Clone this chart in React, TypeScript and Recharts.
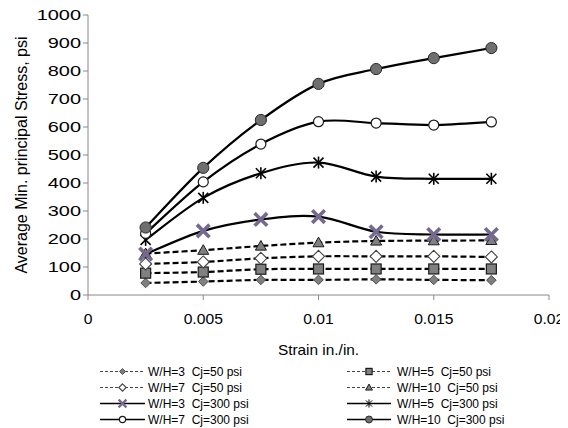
import React from 'react';
import { LineChart, Line, XAxis, YAxis } from 'recharts';

const strain = [0.0025, 0.005, 0.0075, 0.01, 0.0125, 0.015, 0.0175];
const wh3_50 = [43, 48, 54, 54, 56, 54, 53];
const wh5_50 = [78, 82, 92, 93, 93, 93, 93];
const wh7_50 = [111, 118, 131, 138, 138, 138, 136];
const wh10_50 = [148, 160, 175, 187, 193, 194, 195];
const wh3_300 = [146, 229, 270, 280, 226, 216, 216];
const wh5_300 = [197, 347, 435, 473, 423, 415, 415];
const wh7_300 = [220, 404, 539, 619, 614, 607, 618];
const wh10_300 = [241, 454, 625, 754, 807, 846, 882];

const xTicks = [0, 0.005, 0.01, 0.015, 0.02];
const yTicks = [0, 100, 200, 300, 400, 500, 600, 700, 800, 900, 1000];

const seriesNames = [
  'W/H=3  Cj=50 psi',
  'W/H=5  Cj=50 psi',
  'W/H=7  Cj=50 psi',
  'W/H=10  Cj=50 psi',
  'W/H=3  Cj=300 psi',
  'W/H=5  Cj=300 psi',
  'W/H=7  Cj=300 psi',
  'W/H=10  Cj=300 psi',
];
const seriesValues = [wh3_50, wh5_50, wh7_50, wh10_50, wh3_300, wh5_300, wh7_300, wh10_300];
const seriesShapes = ['diamondGray', 'square', 'diamondWhite', 'triangle', 'xPurple', 'star', 'circleWhite', 'circleGray'];
const seriesDashed = [true, true, true, true, false, false, false, false];

const data = strain.map((x, i) => {
  const row: Record<string, number> = { x };
  seriesValues.forEach((vals, k) => {
    row['s' + k] = vals[i];
  });
  return row;
});

const FONT = '"Liberation Sans", Arial, sans-serif';

// Excel-like smoothing (Catmull-Rom style bezier)
const excelSmooth = (context: any) => {
  let pts: number[][] = [];
  return {
    areaStart() {},
    areaEnd() {},
    lineStart() {
      pts = [];
    },
    point(x: number, y: number) {
      pts.push([+x, +y]);
    },
    lineEnd() {
      if (!pts.length) return;
      context.moveTo(pts[0][0], pts[0][1]);
      for (let i = 0; i < pts.length - 1; i++) {
        const p0 = pts[i - 1] || pts[i];
        const p1 = pts[i];
        const p2 = pts[i + 1];
        const p3 = pts[i + 2] || p2;
        context.bezierCurveTo(
          p1[0] + (p2[0] - p0[0]) / 6,
          p1[1] + (p2[1] - p0[1]) / 6,
          p2[0] - (p3[0] - p1[0]) / 6,
          p2[1] - (p3[1] - p1[1]) / 6,
          p2[0],
          p2[1]
        );
      }
    },
  };
};

const Marker = ({ shape, cx, cy, s = 1 }: { shape: string; cx: number; cy: number; s?: number }) => {
  switch (shape) {
    case 'diamondGray': {
      const r = 4.8 * s;
      return (
        <polygon
          points={`${cx},${cy - r} ${cx + r},${cy} ${cx},${cy + r} ${cx - r},${cy}`}
          fill="#7f7f7f"
          stroke="#505050"
          strokeWidth={1}
        />
      );
    }
    case 'square': {
      const r = 5 * s;
      return <rect x={cx - r} y={cy - r} width={2 * r} height={2 * r} fill="#808080" stroke="#1a1a1a" strokeWidth={1.2} />;
    }
    case 'diamondWhite': {
      const r = 6 * s;
      return (
        <polygon
          points={`${cx},${cy - r} ${cx + r},${cy} ${cx},${cy + r} ${cx - r},${cy}`}
          fill="#ffffff"
          stroke="#404040"
          strokeWidth={1.1}
        />
      );
    }
    case 'triangle': {
      const r = 5.5 * s;
      return (
        <polygon
          points={`${cx},${cy - r} ${cx + r},${cy + r * 0.75} ${cx - r},${cy + r * 0.75}`}
          fill="#808080"
          stroke="#1a1a1a"
          strokeWidth={1}
        />
      );
    }
    case 'xPurple': {
      const r = 5 * s;
      return (
        <g stroke="#76698f" strokeWidth={3.6 * s} strokeLinecap="square">
          <line x1={cx - r} y1={cy - r} x2={cx + r} y2={cy + r} />
          <line x1={cx - r} y1={cy + r} x2={cx + r} y2={cy - r} />
        </g>
      );
    }
    case 'star': {
      const r = 5 * s;
      return (
        <g stroke="#000" strokeWidth={1.6 * s}>
          <line x1={cx - r} y1={cy - r} x2={cx + r} y2={cy + r} />
          <line x1={cx - r} y1={cy + r} x2={cx + r} y2={cy - r} />
          <line x1={cx} y1={cy - r - 1} x2={cx} y2={cy + r + 1} />
        </g>
      );
    }
    case 'circleWhite': {
      return <circle cx={cx} cy={cy} r={5 * s} fill="#ffffff" stroke="#1a1a1a" strokeWidth={1.2} />;
    }
    case 'circleGray':
    default: {
      return <circle cx={cx} cy={cy} r={5.6 * s} fill="#6f6f6f" stroke="#2a2a2a" strokeWidth={1} />;
    }
  }
};

const makeDot = (shape: string) => (props: any) => {
  const { cx, cy, index } = props;
  if (cx == null || cy == null) return <g key={index} />;
  return (
    <g key={`${shape}-${index}`}>
      <Marker shape={shape} cx={cx} cy={cy} />
    </g>
  );
};

const YTick = (props: any) => {
  const { x, y, payload } = props;
  return (
    <text
      transform={`translate(${x},${y}) scale(1.33,1)`}
      textAnchor="end"
      dy="0.36em"
      fontSize={15}
      fontFamily={FONT}
      fill="#000"
    >
      {String(payload.value)}
    </text>
  );
};

const XTick = (props: any) => {
  const { x, y, payload } = props;
  return (
    <text
      transform={`translate(${x},${y + 22}) scale(1.12,1)`}
      textAnchor="middle"
      fontSize={14}
      fontFamily={FONT}
      fill="#000"
    >
      {String(payload.value)}
    </text>
  );
};

const XLabel = (props: any) => {
  const vb = props.viewBox || { x: 80, y: 287, width: 461 };
  const cx = vb.x + vb.width / 2;
  return (
    <text
      transform={`translate(${cx},${vb.y + 60}) scale(1.1,1)`}
      textAnchor="middle"
      fontSize={14}
      fontFamily={FONT}
      fill="#000"
    >
      Strain in./in.
    </text>
  );
};

const YLabel = (props: any) => {
  const vb = props.viewBox || { x: 0, y: 7, width: 80, height: 280 };
  const cy = vb.y + vb.height / 2;
  return (
    <text
      transform={`translate(19,${cy}) rotate(-90)`}
      textAnchor="middle"
      fontSize={16}
      fontFamily={FONT}
      fill="#000"
    >
      Average Min. principal Stress, psi
    </text>
  );
};

const legendRows = [363.5, 379.5, 395.5, 411.5];
const legendCols = [
  { x1: 92, x2: 137, tx: 140 },
  { x1: 339, x2: 383, tx: 389 },
];

const ChartLegend = () => (
  <svg
    width={560}
    height={420}
    style={{ position: 'absolute', left: 0, top: 0, pointerEvents: 'none' }}
  >
    {seriesNames.map((name, k) => {
      const row = Math.floor(k / 2);
      const col = legendCols[k % 2];
      const y = legendRows[row];
      const mx = (col.x1 + col.x2) / 2;
      return (
        <g key={name}>
          <line
            x1={col.x1}
            x2={col.x2}
            y1={y}
            y2={y}
            stroke={seriesDashed[k] ? '#444' : '#000'}
            strokeWidth={seriesDashed[k] ? 1 : 1.5}
            strokeDasharray={seriesDashed[k] ? '3 2' : undefined}
          />
          <Marker shape={seriesShapes[k]} cx={mx} cy={y} s={0.62} />
          <text
            x={col.tx}
            y={y}
            dy="0.36em"
            fontSize={12}
            fontFamily={FONT}
            fill="#000"
            style={{ whiteSpace: 'pre' }}
          >
            {name}
          </text>
        </g>
      );
    })}
  </svg>
);

export default function App() {
  return (
    <div style={{ position: 'relative', width: 560, height: 420 }}>
      <LineChart width={560} height={420} data={data} margin={{ top: 7, right: 19, bottom: 73, left: 0 }}>
        <XAxis
          type="number"
          dataKey="x"
          domain={[0, 0.02]}
          ticks={xTicks}
          interval={0}
          height={60}
          tickSize={5}
          axisLine={{ stroke: '#888', strokeWidth: 1 }}
          tickLine={{ stroke: '#888', strokeWidth: 1 }}
          tick={<XTick />}
          label={{ content: <XLabel /> }}
        />
        <YAxis
          type="number"
          domain={[0, 1000]}
          ticks={yTicks}
          interval={0}
          width={80}
          tickSize={5}
          axisLine={{ stroke: '#888', strokeWidth: 1 }}
          tickLine={{ stroke: '#888', strokeWidth: 1 }}
          tick={<YTick />}
          label={{ content: <YLabel /> }}
        />
        {seriesNames.map((name, k) => (
          <Line
            key={name}
            name={name}
            dataKey={'s' + k}
            type={excelSmooth as any}
            stroke="#000"
            strokeWidth={2.2}
            strokeDasharray={seriesDashed[k] ? '6 3' : undefined}
            dot={makeDot(seriesShapes[k])}
            activeDot={false}
            isAnimationActive={false}
          />
        ))}
      </LineChart>
      <ChartLegend />
    </div>
  );
}
